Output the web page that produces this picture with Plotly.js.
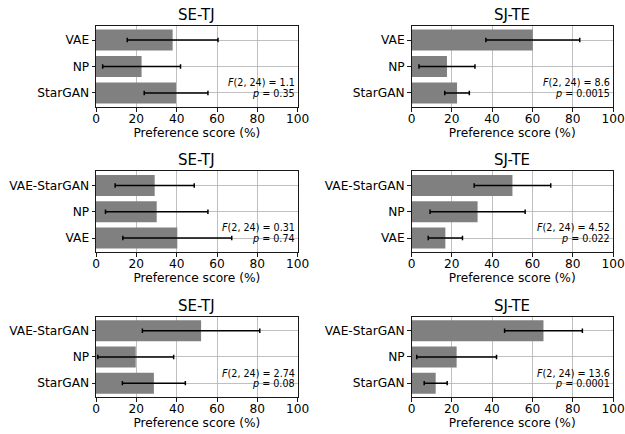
<!DOCTYPE html>
<html><head><meta charset="utf-8">
<script src="https://cdn.plot.ly/plotly-3.0.1.min.js"></script>
<style>html,body{margin:0;padding:0;background:#fff}#chart{width:625px;height:434px}</style>
</head><body><div id="chart"></div>
<script>
// Panel titles
const titles = ["SE-TJ", "SJ-TE", "SE-TJ", "SJ-TE", "SE-TJ", "SJ-TE"];
// Categories listed bottom-to-top
const cats1 = ["StarGAN", "NP", "VAE"];
const cats2 = ["VAE", "NP", "VAE-StarGAN"];
const cats3 = ["StarGAN", "NP", "VAE-StarGAN"];
// Mean preference score (%) and error (±)
const vals1L = [39.7, 22.6, 38.0];  const err1L = [15.8, 19.3, 22.5];
const vals1R = [22.6, 17.6, 60.2];  const err1R = [6.1, 13.9, 23.3];
const vals2L = [40.3, 30.1, 29.1];  const err2L = [27.0, 25.4, 19.6];
const vals2R = [16.8, 32.8, 50.1];  const err2R = [8.5, 23.6, 19.0];
const vals3L = [28.7, 19.7, 52.1];  const err3L = [15.6, 18.8, 29.1];
const vals3R = [12.0, 22.4, 65.5];  const err3R = [5.7, 19.8, 19.3];
// ANOVA stats
const fStats = ["1.1", "8.6", "0.31", "4.52", "2.74", "13.6"];
const pStats = ["0.35", "0.0015", "0.74", "0.022", "0.08", "0.0001"];
const xTitle = "Preference score (%)";

const panels = [
  {cats: cats1, vals: vals1L, err: err1L},
  {cats: cats1, vals: vals1R, err: err1R},
  {cats: cats2, vals: vals2L, err: err2L},
  {cats: cats2, vals: vals2R, err: err2R},
  {cats: cats3, vals: vals3L, err: err3L},
  {cats: cats3, vals: vals3R, err: err3R}
];

const W = 625, H = 434;
const colPx = [[96, 297.7], [411.5, 613]];
const rowPx = [[25.7, 107.3], [171.3, 252.2], [316.6, 397.3]];

const FONT = "DejaVu Sans, sans-serif";
const TICK = 12.2;
const data = [];
const layout = {
  width: W, height: H,
  margin: {l: 0, r: 0, t: 0, b: 0},
  paper_bgcolor: "#fff", plot_bgcolor: "#fff",
  showlegend: false,
  font: {family: FONT, color: "#000", size: TICK},
  annotations: []
};

panels.forEach((p, i) => {
  const n = i + 1;
  const xa = n === 1 ? "x" : "x" + n;
  const ya = n === 1 ? "y" : "y" + n;
  const col = i % 2, row = Math.floor(i / 2);
  data.push({
    type: "bar", orientation: "h",
    y: p.cats, x: p.vals,
    xaxis: xa, yaxis: ya,
    width: 0.8,
    marker: {color: "#808080", line: {width: 0}},
    error_x: {type: "data", array: p.err, visible: true, color: "#000", thickness: 1.5, width: 2.2},
    hoverinfo: "none"
  });
  const xd = [colPx[col][0] / W, colPx[col][1] / W];
  const yd = [1 - rowPx[row][1] / H, 1 - rowPx[row][0] / H];
  layout["xaxis" + (n === 1 ? "" : n)] = {
    domain: xd, anchor: ya, range: [0, 100],
    tickvals: [0, 20, 40, 60, 80, 100],
    showgrid: true, gridcolor: "#b0b0b0", gridwidth: 0.8,
    showline: true, mirror: true, linecolor: "#000", linewidth: 0.9,
    ticks: "outside", ticklen: 3.5, tickwidth: 0.9, tickcolor: "#000",
    ticklabelstandoff: -3,
    tickfont: {size: TICK, family: FONT, color: "#000"},
    zeroline: false,
    title: {text: xTitle, font: {size: TICK, family: FONT, color: "#000"}, standoff: 1}
  };
  layout["yaxis" + (n === 1 ? "" : n)] = {
    domain: yd, anchor: xa,
    type: "category", categoryorder: "array", categoryarray: p.cats,
    range: [-0.54, 2.54],
    showgrid: true, gridcolor: "#b0b0b0", gridwidth: 0.8,
    showline: true, mirror: true, linecolor: "#000", linewidth: 0.9,
    ticks: "outside", ticklen: 3.5, tickwidth: 0.9, tickcolor: "#000",
    tickfont: {size: TICK, family: FONT, color: "#000"},
    zeroline: false
  };
  layout.annotations.push({
    xref: xa + " domain", yref: ya + " domain", x: 0.5, y: 1,
    xanchor: "center", yanchor: "bottom", yshift: 0,
    text: titles[i], showarrow: false,
    font: {size: 15, family: FONT, color: "#000"}
  });
  layout.annotations.push({
    xref: xa + " domain", yref: ya + " domain", x: 1, y: 0.30,
    xanchor: "right", yanchor: "middle", xshift: -1,
    text: "<i>F</i>(2, 24) = " + fStats[i], showarrow: false,
    font: {size: 9.6, family: FONT, color: "#000"}
  });
  layout.annotations.push({
    xref: xa + " domain", yref: ya + " domain", x: 1, y: 0.165,
    xanchor: "right", yanchor: "middle", xshift: -1,
    text: "<i>p</i> = " + pStats[i], showarrow: false,
    font: {size: 9.6, family: FONT, color: "#000"}
  });
});

Plotly.newPlot("chart", data, layout, {displayModeBar: false, staticPlot: true});
</script>
</body></html>
